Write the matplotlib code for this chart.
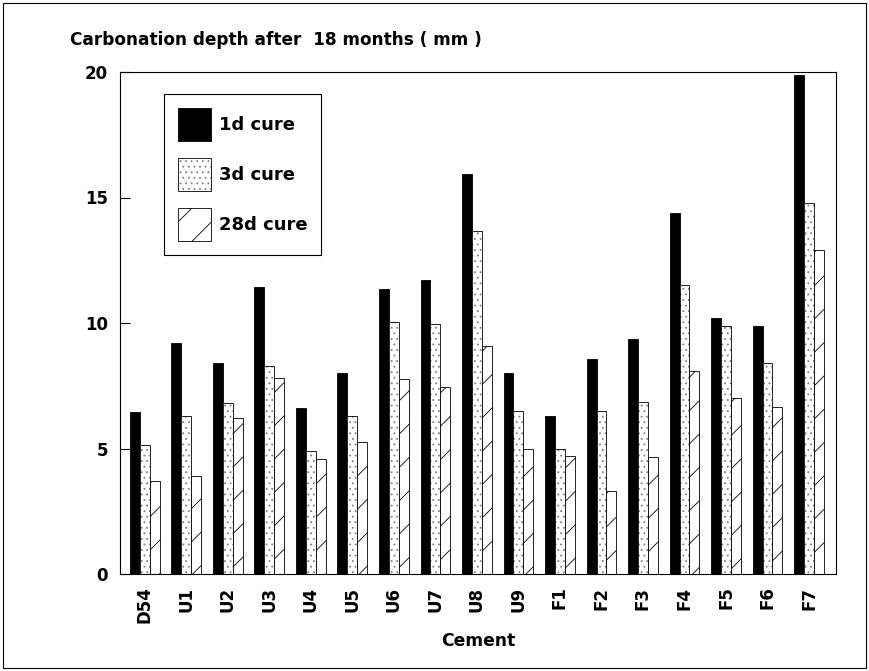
import matplotlib
matplotlib.use("Agg")
import matplotlib.pyplot as plt
import numpy as np
from matplotlib.patches import Rectangle

plt.rcParams['font.family'] = ['DejaVu Sans']
plt.rcParams['font.weight'] = 'bold'
plt.rcParams['hatch.linewidth'] = 0.6

cements = ['D54', 'U1', 'U2', 'U3', 'U4', 'U5', 'U6', 'U7', 'U8',
           'U9', 'F1', 'F2', 'F3', 'F4', 'F5', 'F6', 'F7']
cure_1d = [6.45, 9.2, 8.4, 11.45, 6.6, 8.0, 11.35, 11.7, 15.95,
           8.0, 6.3, 8.55, 9.35, 14.4, 10.2, 9.9, 19.9]
cure_3d = [5.15, 6.3, 6.8, 8.3, 4.9, 6.3, 10.05, 9.95, 13.65,
           6.5, 5.0, 6.5, 6.85, 11.5, 9.9, 8.4, 14.8]
cure_28d = [3.7, 3.9, 6.2, 7.8, 4.6, 5.25, 7.75, 7.45, 9.1,
            5.0, 4.7, 3.3, 4.65, 8.1, 7.0, 6.65, 12.9]
series_labels = ['1d cure', '3d cure', '28d cure']

fig = plt.figure(figsize=(8.69, 6.71), dpi=100)
ax = fig.add_axes([120 / 869, 1 - 574 / 671, 716 / 869, 502 / 671])

x = np.arange(len(cements))
w = 0.24
b1 = ax.bar(x - w, cure_1d, w, color='black', edgecolor='black', linewidth=0.6)
# dotted bars: grey dots underneath, black outline on top
b2_dots = ax.bar(x, cure_3d, w, color='white', edgecolor='0.5', hatch='...',
                 linewidth=0)
b2_edge = ax.bar(x, cure_3d, w, fill=False, edgecolor='black', linewidth=0.6)
b3 = ax.bar(x + w, cure_28d, w, color='white', edgecolor='black', hatch='/',
            linewidth=0.6)

ax.set_xlim(-0.6, len(cements) - 0.35)
ax.set_ylim(0, 20)
ax.set_yticks([0, 5, 10, 15, 20])
ax.set_xticks(x)
ax.set_xticklabels(cements, rotation=90, fontsize=12, fontweight='bold')
ax.tick_params(axis='y', direction='in', length=7, labelsize=12, pad=8.5)
ax.tick_params(axis='x', length=0, pad=9)
for lab in ax.get_yticklabels():
    lab.set_fontweight('bold')
for sp in ax.spines.values():
    sp.set_linewidth(0.8)

ax.set_xlabel('Cement', fontsize=12.3, fontweight='bold', labelpad=6)
fig.text(70 / 869, 1 - 40 / 671, 'Carbonation depth after  18 months ( mm )',
         fontsize=12.2, fontweight='bold', va='center', ha='left')

leg = ax.legend([b1[0], (b2_dots[0], b2_edge[0]), b3[0]], series_labels,
                loc='upper left', bbox_to_anchor=(0.0615, 0.956),
                borderaxespad=0, fontsize=13, handlelength=1.85,
                handleheight=2.5, labelspacing=0.9, borderpad=0.75,
                handletextpad=0.45, fancybox=False, edgecolor='black',
                framealpha=1)
leg.get_frame().set_linewidth(0.8)
for t in leg.get_texts():
    t.set_fontweight('bold')

fig.patches.append(Rectangle((0.003, 0.004), 0.994, 0.992, transform=fig.transFigure,
                             fill=False, edgecolor='black', linewidth=0.8))

fig.savefig('out.png', dpi=100)
plt.close(fig)
